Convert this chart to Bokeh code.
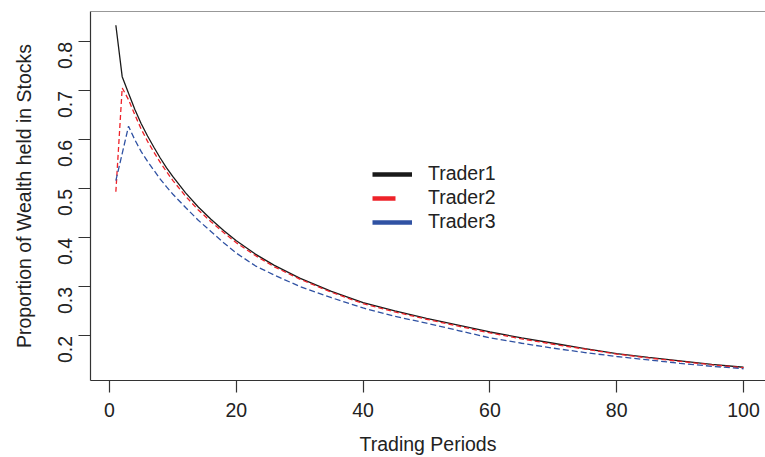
import math
from bokeh.plotting import figure
from bokeh.models import (ColumnDataSource, FixedTicker, Range1d, Legend, LegendItem, Span)
from bokeh.embed import file_html
from bokeh.resources import INLINE

# ---- data ----
periods = [1, 2, 3, 4, 5, 6, 7, 8, 9, 10, 12, 14, 16, 18, 20, 23, 26, 30, 35, 40,
           45, 50, 55, 60, 65, 70, 75, 80, 85, 90, 95, 100]
trader1 = [0.834, 0.729, 0.695, 0.662, 0.633, 0.608, 0.585, 0.563, 0.543, 0.525,
           0.492, 0.463, 0.438, 0.415, 0.394, 0.367, 0.344, 0.318, 0.291, 0.268,
           0.251, 0.236, 0.222, 0.208, 0.196, 0.185, 0.174, 0.164, 0.156, 0.149,
           0.142, 0.136]
trader2 = [0.494, 0.706, 0.682, 0.651, 0.622, 0.597, 0.575, 0.554, 0.535, 0.517,
           0.485, 0.457, 0.433, 0.411, 0.390, 0.364, 0.341, 0.316, 0.289, 0.266,
           0.249, 0.234, 0.220, 0.206, 0.194, 0.183, 0.173, 0.163, 0.155, 0.148,
           0.141, 0.135]
trader3 = [0.517, 0.572, 0.628, 0.600, 0.576, 0.556, 0.538, 0.520, 0.504, 0.489,
           0.462, 0.436, 0.413, 0.390, 0.369, 0.343, 0.324, 0.301, 0.278, 0.257,
           0.240, 0.226, 0.211, 0.196, 0.185, 0.175, 0.166, 0.158, 0.151, 0.144,
           0.138, 0.133]
series_names = ["Trader1", "Trader2", "Trader3"]
x_ticks = [0, 20, 40, 60, 80, 100]
y_ticks = [0.2, 0.3, 0.4, 0.5, 0.6, 0.7, 0.8]

FONT = "Liberation Sans"
FS = "19.5px"
BLACK = "#1a1a1a"
RED = "#ee2229"
BLUE = "#3052a3"

src = ColumnDataSource(dict(x=periods, t1=trader1, t2=trader2, t3=trader3))

p = figure(width=765, height=457, output_backend="svg", toolbar_location=None,
           x_range=Range1d(-3.0, 103.47), y_range=Range1d(0.109, 0.862),
           min_border_left=90, min_border_right=0, min_border_top=11, min_border_bottom=74)
p.background_fill_color = "white"
p.border_fill_color = "white"
p.outline_line_color = None
p.xgrid.grid_line_color = None
p.ygrid.grid_line_color = None

r1 = p.line("x", "t1", source=src, line_color=BLACK, line_width=1.3)
r2 = p.line("x", "t2", source=src, line_color=RED, line_width=1.3, line_dash="5 3")
r3 = p.line("x", "t3", source=src, line_color=BLUE, line_width=1.3, line_dash="6 3")

# top edge of the box
p.add_layout(Span(location=0.862, dimension="width", line_color="#333333", line_width=1.2))

for ax in (p.xaxis[0], p.yaxis[0]):
    ax.axis_line_color = "#333333"
    ax.axis_line_width = 1.2
    ax.major_tick_line_color = "#333333"
    ax.major_tick_line_width = 1.2
    ax.major_tick_in = 0
    ax.major_tick_out = 12
    ax.minor_tick_line_color = None
    ax.major_label_text_font = FONT
    ax.major_label_text_font_size = FS
    ax.major_label_text_color = "#222222"
    ax.axis_label_text_font = FONT
    ax.axis_label_text_font_size = FS
    ax.axis_label_text_font_style = "normal"
    ax.axis_label_text_color = "#222222"

p.xaxis[0].ticker = FixedTicker(ticks=x_ticks)
p.yaxis[0].ticker = FixedTicker(ticks=y_ticks)
p.xaxis[0].axis_label = "Trading Periods"
p.yaxis[0].axis_label = "Proportion of Wealth held in Stocks"
p.xaxis[0].major_label_standoff = 10
p.xaxis[0].axis_label_standoff = 13
p.yaxis[0].major_label_orientation = math.pi / 2
p.yaxis[0].major_label_standoff = 13
p.yaxis[0].axis_label_standoff = 14

# legend keys (thick lines); NaN data so they draw nothing in the plot area
nan = float("nan")
key_src = ColumnDataSource(dict(x=[nan], y=[nan]))
k1 = p.line("x", "y", source=key_src, line_color=BLACK, line_width=4.5)
k2 = p.line("x", "y", source=key_src, line_color=RED, line_width=4.5, line_dash="23 100")
k3 = p.line("x", "y", source=key_src, line_color=BLUE, line_width=4.5)
legend = Legend(items=[LegendItem(label=series_names[0], renderers=[k1]),
                       LegendItem(label=series_names[1], renderers=[k2]),
                       LegendItem(label=series_names[2], renderers=[k3])],
                location=(282, 147), glyph_width=40, glyph_height=20,
                label_standoff=16, spacing=1, padding=0, margin=0,
                label_text_font=FONT, label_text_font_size=FS,
                label_text_color="#222222",
                border_line_color=None, background_fill_alpha=0)
p.add_layout(legend)

open("out.html", "w").write(file_html(p, INLINE))
